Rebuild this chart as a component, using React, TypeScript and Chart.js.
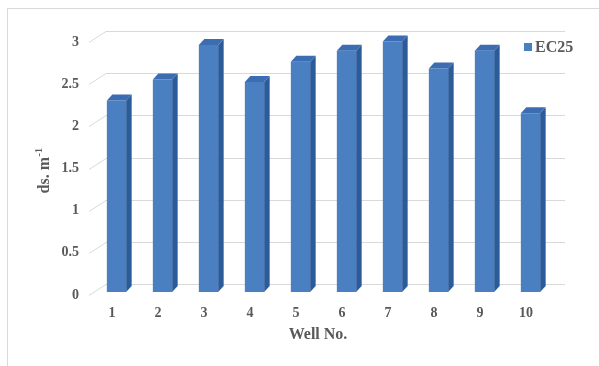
import React, { useEffect, useRef } from "react";
import { Chart, registerables } from "chart.js";

Chart.register(...registerables);

// Well numbers and EC25 readings (ds. m-1)
const wells = ["1", "2", "3", "4", "5", "6", "7", "8", "9", "10"];
const ec25 = [2.27, 2.52, 2.93, 2.49, 2.73, 2.86, 2.97, 2.65, 2.86, 2.12];
const seriesName = "EC25";
const yTitleMain = "ds. m";
const yTitleSup = "-1";
const xTitle = "Well No.";

const FRONT = "#4a7fc1";
const TOP = "#3c6db2";
const SIDE = "#2c5b99";
const GRID = "#d9d9d9";
const TEXT = "#595959";
const FONT = "'Liberation Serif', 'Times New Roman', serif";

// depth of the 3D extrusion
const DX = 5.5;
const DY = 6;

const threeD = {
  id: "threeD",
  beforeDraw(chart: any) {
    const { ctx, chartArea } = chart;
    const y = chart.scales.y;
    ctx.save();
    // outer frame
    ctx.strokeStyle = GRID;
    ctx.lineWidth = 1;
    ctx.strokeRect(7.5, 8.5, 620, 400);
    // side wall diagonals and back wall lines
    const backL = chartArea.left + 12.5;
    const backR = chartArea.right + 11.5;
    const frontL = chartArea.left - 4.5;
    for (const v of [0, 0.5, 1, 1.5, 2, 2.5, 3]) {
      const py = Math.round(y.getPixelForValue(v)) + 0.5;
      ctx.beginPath();
      ctx.moveTo(frontL, py + 3);
      ctx.lineTo(backL, py - 8);
      ctx.lineTo(backR, py - 8);
      ctx.stroke();
    }
    ctx.restore();
  },
  afterDatasetsDraw(chart: any) {
    const { ctx } = chart;
    const meta = chart.getDatasetMeta(0);
    ctx.save();
    meta.data.forEach((bar: any) => {
      const { x, y, width, base } = bar.getProps(["x", "y", "width", "base"], true);
      const l = x - width / 2;
      const r = x + width / 2;
      // side face
      ctx.fillStyle = SIDE;
      ctx.beginPath();
      ctx.moveTo(r, y);
      ctx.lineTo(r + DX, y - DY);
      ctx.lineTo(r + DX, base - DY);
      ctx.lineTo(r, base);
      ctx.closePath();
      ctx.fill();
      // top face
      ctx.fillStyle = TOP;
      ctx.beginPath();
      ctx.moveTo(l, y);
      ctx.lineTo(l + DX, y - DY);
      ctx.lineTo(r + DX, y - DY);
      ctx.lineTo(r, y);
      ctx.closePath();
      ctx.fill();
    });

    // axis titles
    ctx.fillStyle = TEXT;
    ctx.textBaseline = "middle";
    ctx.textAlign = "center";
    ctx.font = `bold 16px ${FONT}`;
    ctx.fillText(xTitle, 318, 335);

    ctx.save();
    ctx.translate(45, 171);
    ctx.rotate(-Math.PI / 2);
    ctx.font = `bold 16px ${FONT}`;
    const wMain = ctx.measureText(yTitleMain).width;
    ctx.font = `bold 10px ${FONT}`;
    const wSup = ctx.measureText(yTitleSup).width;
    const start = -(wMain + wSup) / 2;
    ctx.textAlign = "left";
    ctx.font = `bold 16px ${FONT}`;
    ctx.fillText(yTitleMain, start, 0);
    ctx.font = `bold 10px ${FONT}`;
    ctx.fillText(yTitleSup, start + wMain + 0.5, -6);
    ctx.restore();

    // legend
    ctx.fillStyle = FRONT;
    ctx.fillRect(524, 43, 8, 8);
    ctx.fillStyle = TEXT;
    ctx.textAlign = "left";
    ctx.font = `bold 16px ${FONT}`;
    ctx.fillText(seriesName, 535, 47.5);
    ctx.restore();
  },
};

export default function App() {
  const ref = useRef<HTMLCanvasElement | null>(null);

  useEffect(() => {
    if (!ref.current) return;
    const chart = new Chart(ref.current, {
      type: "bar",
      data: {
        labels: wells,
        datasets: [
          {
            label: seriesName,
            data: ec25,
            backgroundColor: FRONT,
            borderWidth: 0,
            categoryPercentage: 1,
            barPercentage: 0.42,
          },
        ],
      },
      options: {
        animation: false,
        responsive: false,
        devicePixelRatio: 1,
        layout: { padding: { left: 0, right: 45.5, top: 39, bottom: 0 } },
        plugins: { legend: { display: false }, tooltip: { enabled: false } },
        scales: {
          x: {
            grid: { display: false, drawTicks: false },
            border: { display: false },
            ticks: {
              color: TEXT,
              font: { family: FONT, size: 14, weight: "bold" },
              padding: 12.5,
              labelOffset: -4.5,
              maxRotation: 0,
            },
            afterFit(scale: any) {
              scale.height = 74;
            },
          },
          y: {
            min: 0,
            max: 3,
            grid: { display: false, drawTicks: false },
            border: { display: false },
            ticks: {
              stepSize: 0.5,
              color: TEXT,
              font: { family: FONT, size: 14, weight: "bold" },
              padding: 14.5,
              labelOffset: 3,
              callback: (value: any) => String(Number(value)),
            },
            afterFit(scale: any) {
              scale.width = 93.5;
            },
          },
        },
      },
      plugins: [threeD],
    });
    return () => chart.destroy();
  }, []);

  return (
    <div style={{ position: "fixed", left: 0, top: 0, width: 599, height: 366, background: "#fff" }}>
      <canvas ref={ref} width={599} height={366} style={{ display: "block" }} />
    </div>
  );
}
